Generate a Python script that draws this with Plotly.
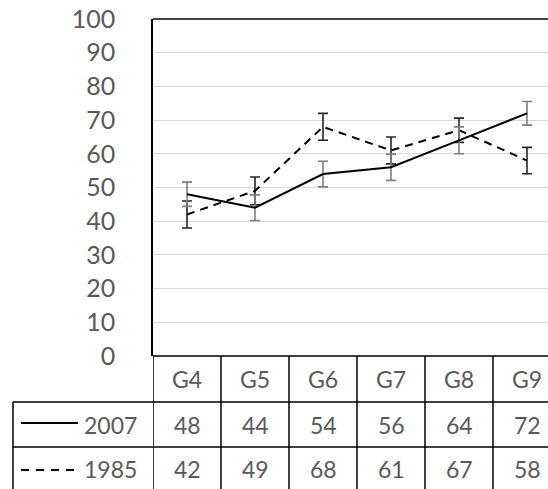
import plotly.graph_objects as go

categories = ["G4", "G5", "G6", "G7", "G8", "G9"]
series_names = ["2007", "1985"]
values_2007 = [48, 44, 54, 56, 64, 72]
values_1985 = [42, 49, 68, 61, 67, 58]
err_2007 = [3.6, 3.8, 3.8, 3.9, 4.0, 3.5]
err_1985 = [4.0, 4.1, 4.0, 4.0, 3.6, 3.9]
y_ticks = [0, 10, 20, 30, 40, 50, 60, 70, 80, 90, 100]

W, H = 548, 489
PL, PT, PB = 153, 19, 356          # plot left / top / bottom in page pixels
L = PL
T = PT
B = H - PB
plot_w = W - L
plot_h = H - T - B
col_px = 68.0

def px_x(p):
    return (p - L) / plot_w

def px_y(p):
    return (H - B - p) / plot_h

TXT = "#595959"
FONT = "Lato"

fig = go.Figure()
fig.add_trace(go.Scatter(
    x=categories, y=values_1985, mode="lines", name="1985",
    line=dict(color="black", width=2, dash="8px,6px"),
    error_y=dict(type="data", array=err_1985, color="#262626", thickness=1.6, width=5),
))
fig.add_trace(go.Scatter(
    x=categories, y=values_2007, mode="lines", name="2007",
    line=dict(color="black", width=2),
    error_y=dict(type="data", array=err_2007, color="#7f7f7f", thickness=1.6, width=5),
))

shapes = []
LINE = dict(color="black", width=1.5)
y_r1 = px_y(402)
y_r2 = px_y(447)
y_bot = px_y(500)
x_left = px_x(13)
# top of plot area (right part visible only up to canvas edge)
shapes.append(dict(type="line", xref="paper", yref="paper", x0=0, x1=1.05,
                   y0=1, y1=1, line=LINE))
for yy in (0, y_r1, y_r2):
    x0 = 0 if yy == 0 else x_left
    shapes.append(dict(type="line", xref="paper", yref="paper", x0=x0, x1=1.05,
                       y0=yy, y1=yy, line=LINE))
for i in range(len(categories)):
    shapes.append(dict(type="line", xref="x", yref="paper", x0=i - 0.5, x1=i - 0.5,
                       y0=0, y1=y_bot, line=LINE))
shapes.append(dict(type="line", xref="paper", yref="paper", x0=x_left, x1=x_left,
                   y0=y_r1, y1=y_bot, line=LINE))
# legend keys
shapes.append(dict(type="line", xref="paper", yref="paper", x0=px_x(21), x1=px_x(78),
                   y0=px_y(423), y1=px_y(423), line=dict(color="black", width=2)))
shapes.append(dict(type="line", xref="paper", yref="paper", x0=px_x(21), x1=px_x(78),
                   y0=px_y(470), y1=px_y(470), line=dict(color="black", width=2, dash="8px,7px")))

annotations = []
tfont = dict(family=FONT, size=23, color=TXT)
for c in categories:
    annotations.append(dict(x=c, y=px_y(379), xref="x", yref="paper", text=c,
                            showarrow=False, font=tfont, xanchor="center", yanchor="middle"))
for c, v in zip(categories, values_2007):
    annotations.append(dict(x=c, y=px_y(425), xref="x", yref="paper", text=str(v),
                            showarrow=False, font=tfont, xanchor="center", yanchor="middle"))
for c, v in zip(categories, values_1985):
    annotations.append(dict(x=c, y=px_y(469), xref="x", yref="paper", text=str(v),
                            showarrow=False, font=tfont, xanchor="center", yanchor="middle"))
for name, yp in zip(series_names, (425, 469)):
    annotations.append(dict(x=px_x(139), y=px_y(yp), xref="paper", yref="paper", text=name,
                            showarrow=False, font=tfont, xanchor="right", yanchor="middle"))

fig.update_layout(
    width=W, height=H,
    margin=dict(l=L, r=0, t=T, b=B, pad=0),
    paper_bgcolor="white", plot_bgcolor="white",
    showlegend=False,
    shapes=shapes, annotations=annotations,
    xaxis=dict(range=[-0.5, -0.5 + plot_w / col_px], showticklabels=False, showgrid=False,
               showline=False, ticks="", zeroline=False, fixedrange=True),
    yaxis=dict(range=[0, 100], tickvals=y_ticks, showgrid=True, gridcolor="#d9d9d9",
               gridwidth=1, showline=True, linecolor="black", linewidth=1.5,
               ticks="outside", ticklen=31, tickcolor="rgba(0,0,0,0)",
               ticklabeloverflow="allow",
               tickfont=dict(family=FONT, size=25, color=TXT), zeroline=False),
)

fig.write_html(
    "out.html",
    config={"displayModeBar": False},
    post_script="document.documentElement.style.margin='0';document.documentElement.style.overflow='hidden';"
                "document.body.style.margin='0';document.body.style.overflow='hidden';",
)
